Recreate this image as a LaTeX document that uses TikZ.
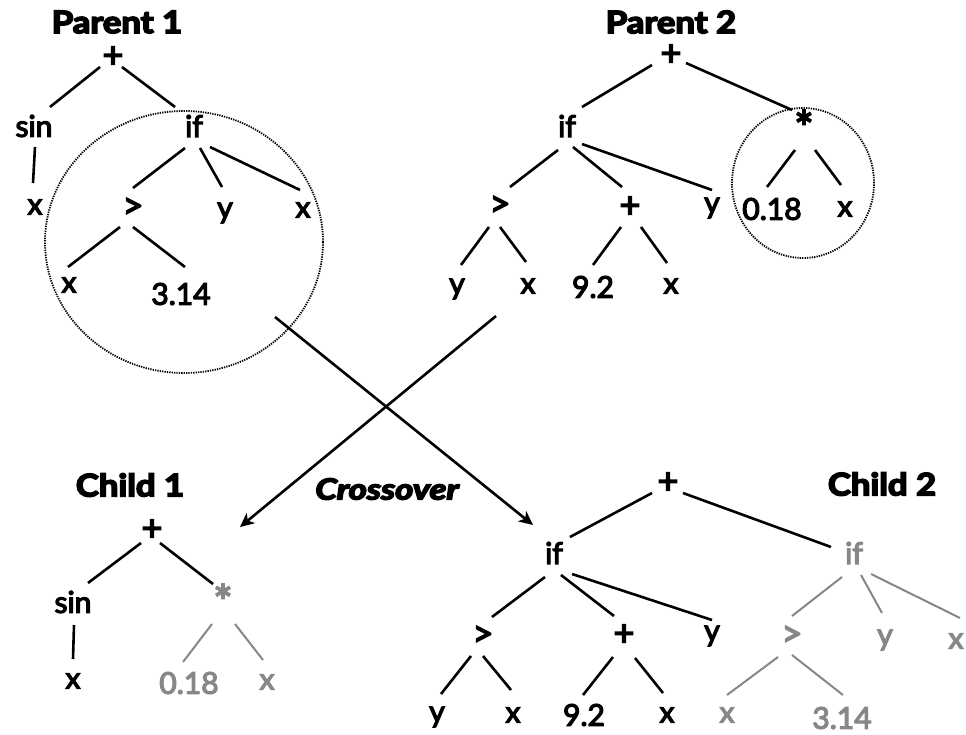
\documentclass[tikz,border=0pt]{standalone}
\usepackage{fontspec}
\setmainfont{Lato}
\newfontfamily\lblfont[FakeBold=4]{Lato}
\newfontfamily\ttlfont[BoldFeatures={FakeBold=5},BoldItalicFeatures={FakeBold=5}]{Lato}
\usetikzlibrary{calc,arrows.meta,shapes.geometric}
\definecolor{lightgr}{HTML}{878787}
\begin{document}
\begin{tikzpicture}[x=1pt,y=-1pt,
  lbl/.style={inner sep=0pt,font=\lblfont\fontsize{30}{32}\selectfont},
  glbl/.style={lbl,text=lightgr},
  sym/.style={scale=1.2},
  star/.style={scale=1.5},
  ttl/.style={inner sep=0pt,font=\ttlfont\fontsize{31}{34}\selectfont\bfseries,xscale=1.12},
  edge/.style={line width=2.6pt,black},
  gedge/.style={line width=2pt,lightgr},
  sel/.style={draw,ellipse,line width=1.8pt,dash pattern=on 1.3pt off 1.1pt,inner sep=0pt},
  arr/.style={line width=2.6pt,-{Stealth[length=14pt,width=13pt,inset=4pt]}}]
\useasboundingbox (0,0) rectangle (966,735);
\fill[white] (0,0) rectangle (966,735);
\clip (0,0) rectangle (966,735);

% ---------- Parent 1 ----------
\node[ttl] (p1t) at (117,22) {Parent 1};
\node[lbl,sym] (p1plus) at (113,57) {+};
\node[lbl] (p1sin) at (34,126) {sin};
\node[lbl] (p1if) at (194,126) {if};
\node[lbl] (p1x1) at (35,207) {x};
\node[lbl,sym] (p1gt) at (133,208) {>};
\node[lbl] (p1y) at (225,213) {y};
\node[lbl] (p1x2) at (303,210) {x};
\node[lbl] (p1x3) at (69,285) {x};
\node[lbl] (p1pi) at (181,294) {3.14};
\draw[edge] ($(p1plus)+(-13,10)$) -- ($(p1sin)+(16,-19)$);
\draw[edge] ($(p1plus)+(9,10)$) -- ($(p1if)+(-19,-19)$);
\draw[edge] ($(p1sin)+(1,21)$) -- ($(p1x1)+(-2,-24)$);
\draw[edge] ($(p1if)+(-9,22)$) -- ($(p1gt)+(0,-20)$);
\draw[edge] ($(p1if)+(6,22)$) -- ($(p1y)+(-3,-26)$);
\draw[edge] ($(p1if)+(16,21)$) -- ($(p1x2)+(-3,-20)$);
\draw[edge] ($(p1gt)+(-13,19)$) -- ($(p1x3)+(-1,-18)$);
\draw[edge] ($(p1gt)+(0,19)$) -- ($(p1pi)+(4,-27)$);
\node[sel,minimum width=278pt,minimum height=262pt] (p1sel) at (184,242) {};

% ---------- Parent 2 ----------
\node[ttl] (p2t) at (671,22) {Parent 2};
\node[lbl,sym] (p2plus) at (671,55) {+};
\node[lbl] (p2if) at (567,126) {if};
\node[lbl,star] (p2star) at (804,127) {*};
\node[lbl,sym] (p2gt) at (500,206) {>};
\node[lbl,sym] (p2plus2) at (630,207) {+};
\node[lbl] (p2y) at (712,208) {y};
\node[lbl] (p2c) at (772,209) {0.18};
\node[lbl] (p2x1) at (845,209) {x};
\node[lbl] (p2y2) at (457,289) {y};
\node[lbl] (p2x2) at (528,286) {x};
\node[lbl] (p2n) at (593,287) {9.2};
\node[lbl] (p2x3) at (671,286) {x};
\draw[edge] ($(p2plus)+(-19,10)$) -- ($(p2if)+(15,-19)$);
\draw[edge] ($(p2plus)+(15,8)$) -- ($(p2star)+(-12,-17)$);
\draw[edge] ($(p2if)+(-9,24)$) -- ($(p2gt)+(10,-19)$);
\draw[edge] ($(p2if)+(6,21)$) -- ($(p2plus2)+(-8,-20)$);
\draw[edge] ($(p2if)+(15,18)$) -- ($(p2y)+(0,-18)$);
\draw[edge] ($(p2star)+(-9,23)$) -- ($(p2c)+(-5,-22)$);
\draw[edge] ($(p2star)+(11,23)$) -- ($(p2x1)+(-4,-24)$);
\draw[edge] ($(p2gt)+(-11,21)$) -- ($(p2y2)+(4,-24)$);
\draw[edge] ($(p2gt)+(0,21)$) -- ($(p2x2)+(-2,-24)$);
\draw[edge] ($(p2plus2)+(-9,20)$) -- ($(p2n)+(0,-22)$);
\draw[edge] ($(p2plus2)+(11,20)$) -- ($(p2x3)+(-4,-23)$);
\node[sel,minimum width=142pt,minimum height=150pt] (p2sel) at (803,183) {};

% ---------- Crossover arrows ----------
\coordinate (a1s) at (275,317);
\coordinate (a1e) at (533,525);
\coordinate (a2s) at (496,316);
\coordinate (a2e) at (240,527);
\draw[arr] (a1s) -- (a1e);
\draw[arr] (a2s) -- (a2e);
\node[inner sep=0pt,font=\ttlfont\fontsize{29}{32}\selectfont\bfseries\itshape,xscale=1.2] (xo) at (387,489) {Crossover};

% ---------- Child 1 ----------
\node[ttl] (c1t) at (130,485) {Child 1};
\node[lbl,sym] (c1plus) at (152,530) {+};
\node[lbl] (c1sin) at (73,602) {sin};
\node[glbl,star] (c1star) at (223,601) {*};
\node[lbl] (c1x) at (73,681) {x};
\node[glbl] (c1c) at (189,683) {0.18};
\node[glbl] (c1x2) at (267,682) {x};
\draw[edge] ($(c1plus)+(-11,13)$) -- ($(c1sin)+(15,-19)$);
\draw[edge] ($(c1plus)+(8,13)$) -- ($(c1star)+(-10,-17)$);
\draw[edge] ($(c1sin)+(1,23)$) -- ($(c1x)+(0,-22)$);
\draw[gedge] ($(c1star)+(-11,23)$) -- ($(c1c)+(-6,-21)$);
\draw[gedge] ($(c1star)+(12,23)$) -- ($(c1x2)+(-4,-22)$);

% ---------- Child 2 ----------
\node[ttl] (c2t) at (882,484) {Child 2};
\node[lbl,sym] (c2plus) at (668,483) {+};
\node[lbl] (c2if) at (554,553) {if};
\node[glbl] (c2if2) at (854,553) {if};
\node[lbl,sym] (c2gt) at (483,636) {>};
\node[lbl,sym] (c2plus2) at (624,635) {+};
\node[lbl] (c2y) at (712,636) {y};
\node[glbl,sym] (c2gt2) at (792,636) {>};
\node[glbl] (c2y2) at (885,640) {y};
\node[glbl] (c2x) at (956,641) {x};
\node[lbl] (c2y3) at (437,717) {y};
\node[lbl] (c2x1) at (513,715) {x};
\node[lbl] (c2n) at (584,715) {9.2};
\node[lbl] (c2x2) at (667,715) {x};
\node[glbl] (c2x3) at (727,715) {x};
\node[glbl] (c2pi) at (842,718) {3.14};
\draw[edge] ($(c2plus)+(-16,10)$) -- ($(c2if)+(16,-16)$);
\draw[edge] ($(c2plus)+(15,10)$) -- ($(c2if2)+(-23,-6)$);
\draw[edge] ($(c2if)+(-9,24)$) -- ($(c2gt)+(9,-19)$);
\draw[edge] ($(c2if)+(7,22)$) -- ($(c2plus2)+(-10,-19)$);
\draw[edge] ($(c2if)+(18,21)$) -- ($(c2y)+(0,-16)$);
\draw[edge] ($(c2gt)+(-12,20)$) -- ($(c2y3)+(4,-23)$);
\draw[edge] ($(c2gt)+(0,20)$) -- ($(c2x1)+(-2,-25)$);
\draw[edge] ($(c2plus2)+(-11,22)$) -- ($(c2n)+(-1,-20)$);
\draw[edge] ($(c2plus2)+(11,23)$) -- ($(c2x2)+(-4,-22)$);
\draw[gedge] ($(c2if2)+(-12,24)$) -- ($(c2gt2)+(0,-20)$);
\draw[gedge] ($(c2if2)+(7,22)$) -- ($(c2y2)+(-3,-27)$);
\draw[gedge] ($(c2if2)+(17,21)$) -- ($(c2x)+(4,-23)$);
\draw[gedge] ($(c2gt2)+(-14,21)$) -- ($(c2x3)+(0,-20)$);
\draw[gedge] ($(c2gt2)+(0,19)$) -- ($(c2pi)+(1,-23)$);
\end{tikzpicture}
\end{document}
